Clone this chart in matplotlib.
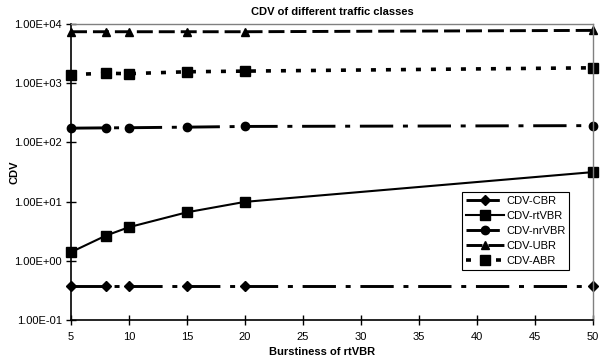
import matplotlib
matplotlib.use("Agg")
import matplotlib.pyplot as plt
from matplotlib.ticker import FuncFormatter, FixedLocator, NullLocator

plt.rcParams['font.family'] = ['Liberation Sans', 'DejaVu Sans']
plt.rcParams['lines.scale_dashes'] = False

x = [5, 8, 10, 15, 20, 50]
cbr = [0.37, 0.37, 0.37, 0.37, 0.37, 0.37]
rtvbr = [1.4, 2.66, 3.7, 6.6, 9.9, 31.5]
nrvbr = [174, 176, 177, 181, 186, 192]
ubr = [7400, 7400, 7400, 7400, 7400, 7800]
abr = [1400, 1470, 1450, 1560, 1600, 1820]

xticks = [5, 10, 15, 20, 25, 30, 35, 40, 45, 50]
yticks = [0.1, 1, 10, 100, 1000, 10000]

fig = plt.figure(figsize=(6.02, 3.60), dpi=100)
ax = fig.add_axes([71/602, 1-320/360, (593-71)/602, (320-24)/360])

lw = 2.1
dashdot = (24, 7, 3.6, 7)
ax.plot(x, cbr, color='black', lw=lw, dashes=dashdot, marker='D', ms=4.8, label='CDV-CBR')
ax.plot(x, rtvbr, color='black', lw=1.5, linestyle='-', marker='s', ms=6.5, label='CDV-rtVBR')
ax.plot(x, nrvbr, color='black', lw=lw, dashes=dashdot, marker='o', ms=6, label='CDV-nrVBR')
ax.plot(x, ubr, color='black', lw=lw, dashes=(11.5, 4.3), marker='^', ms=6, label='CDV-UBR')
ax.plot(x, abr, color='black', lw=lw + 0.5, dashes=(3.6, 7.2), marker='s', ms=6.5, label='CDV-ABR')

ax.set_yscale('log')
ax.set_xlim(5, 50)
ax.set_ylim(0.1, 10000)
ax.xaxis.set_major_locator(FixedLocator(xticks))
ax.yaxis.set_major_locator(FixedLocator(yticks))
ax.yaxis.set_minor_locator(NullLocator())
ax.yaxis.set_major_formatter(FuncFormatter(lambda v, p: '%.2E' % v))

ax.tick_params(axis='both', direction='inout', length=7, width=1, labelsize=8, colors='black', pad=3)
ax.tick_params(axis='x', pad=5)
for side in ['top', 'right']:
    ax.spines[side].set_color('#808080')
    ax.spines[side].set_linewidth(1)
for side in ['left', 'bottom']:
    ax.spines[side].set_color('black')
    ax.spines[side].set_linewidth(1.2)
for ln in ax.lines:
    ln.set_clip_on(False)

fig.text(332/602, 1-12/360, 'CDV of different traffic classes', ha='center', va='center', fontsize=8, fontweight='bold')
fig.text(322/602, 1-352/360, 'Burstiness of rtVBR', ha='center', va='center', fontsize=8, fontweight='bold')
fig.text(15/602, 1-172/360, 'CDV', ha='center', va='center', fontsize=8, fontweight='bold', rotation=90)

leg = ax.legend(loc='upper left', bbox_to_anchor=((462-71)/522, (320-192)/296), fontsize=8,
                frameon=True, fancybox=False, framealpha=1, edgecolor='black',
                handlelength=3.4, handletextpad=0.2, borderpad=0.35, labelspacing=0.45,
                borderaxespad=0)
leg.get_frame().set_linewidth(0.8)

fig.savefig('out.png', dpi=100)
